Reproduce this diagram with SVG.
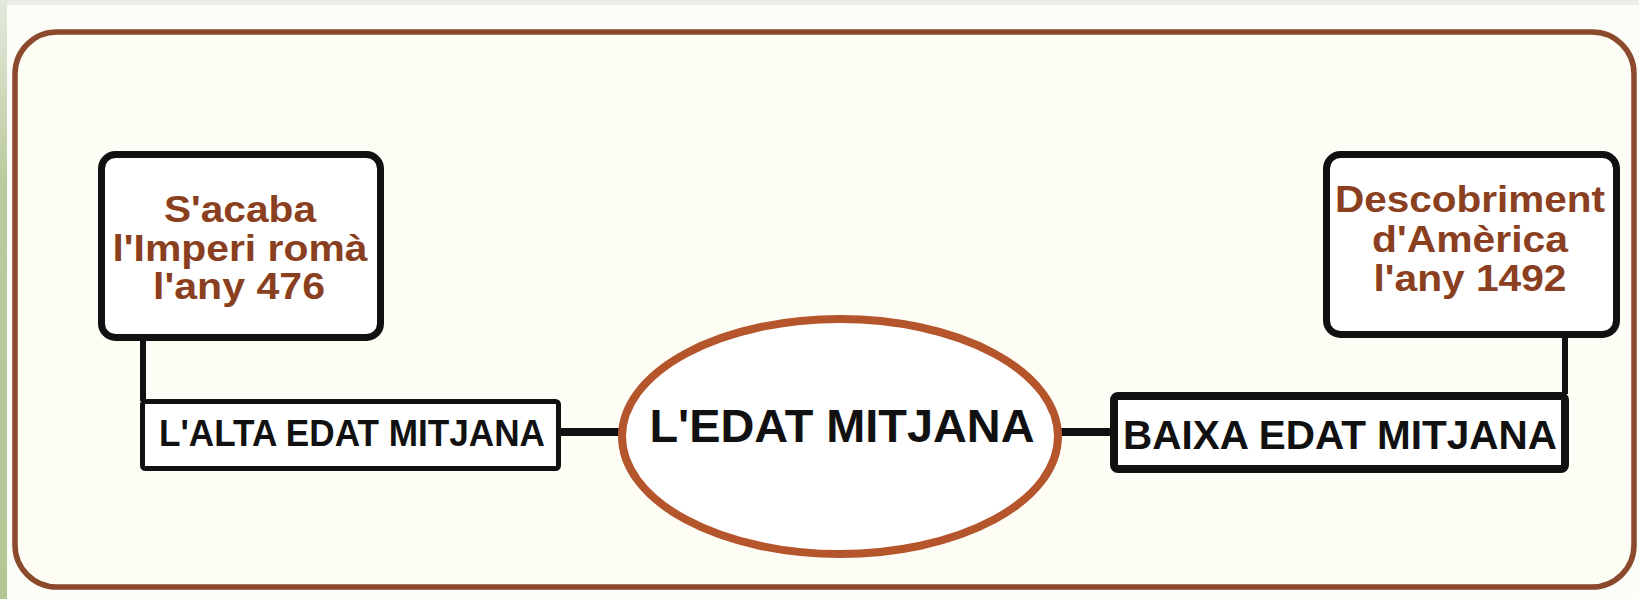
<svg xmlns="http://www.w3.org/2000/svg" width="1639" height="599" viewBox="0 0 1639 599">
<defs>
<linearGradient id="strip" x1="0" y1="0" x2="0" y2="1">
<stop offset="0" stop-color="#e4e9dc"/>
<stop offset="0.3" stop-color="#b9cb9e"/>
<stop offset="1" stop-color="#b3c795"/>
</linearGradient>
<style>
.box{fill:#ffffff;stroke:#111111;stroke-width:7}
.lbl{fill:#ffffff;stroke:#111111}
.wire{stroke:#111111;fill:none}
.brown{font-family:"Liberation Sans",Arial,sans-serif;font-weight:bold;font-size:37px;fill:#8a3f20;text-anchor:middle}
.black{font-family:"Liberation Sans",Arial,sans-serif;font-weight:bold;fill:#111111;text-anchor:middle}
</style>
</defs>
<rect x="0" y="0" width="1639" height="599" fill="#fcfcf8"/>
<rect x="0" y="0" width="1639" height="5" fill="#eceee8"/>
<rect x="0" y="0" width="7" height="599" fill="url(#strip)"/>
<rect id="frame" x="15" y="32" width="1619" height="555" rx="42" ry="42" fill="#fdfdf6" stroke="#8b4a2b" stroke-width="5.5"/>

<g id="connectors">
<line class="wire" x1="143" y1="338" x2="143" y2="401" stroke-width="6"/>
<line class="wire" x1="1565" y1="336" x2="1565" y2="394" stroke-width="6"/>
<line class="wire" x1="559" y1="432" x2="620" y2="432" stroke-width="8"/>
<line class="wire" x1="1060" y1="432" x2="1112" y2="432" stroke-width="8"/>
</g>

<g id="node-imperi">
<rect class="box" x="101.5" y="154.5" width="279" height="183" rx="14"/>
<text class="brown" x="240" y="222" textLength="152" lengthAdjust="spacingAndGlyphs">S'acaba</text>
<text class="brown" x="240" y="261" textLength="255" lengthAdjust="spacingAndGlyphs">l'Imperi romà</text>
<text class="brown" x="239" y="299" textLength="172" lengthAdjust="spacingAndGlyphs">l'any 476</text>
</g>

<g id="node-america">
<rect class="box" x="1326.5" y="154.5" width="290" height="180" rx="14"/>
<text class="brown" x="1470" y="212" textLength="270" lengthAdjust="spacingAndGlyphs">Descobriment</text>
<text class="brown" x="1470" y="252" textLength="196" lengthAdjust="spacingAndGlyphs">d'Amèrica</text>
<text class="brown" x="1470" y="291" textLength="193" lengthAdjust="spacingAndGlyphs">l'any 1492</text>
</g>

<g id="node-alta">
<rect class="lbl" x="142.5" y="401.5" width="416" height="67" rx="3" stroke-width="5"/>
<text class="black" x="352" y="446" font-size="36" textLength="386" lengthAdjust="spacingAndGlyphs">L'ALTA EDAT MITJANA</text>
</g>

<g id="node-edat">
<ellipse cx="840" cy="436.5" rx="218" ry="117.5" fill="#ffffff" stroke="#b5552b" stroke-width="8"/>
<text class="black" x="842" y="442" font-size="47" textLength="385" lengthAdjust="spacingAndGlyphs">L'EDAT MITJANA</text>
</g>

<g id="node-baixa">
<rect class="lbl" x="1114" y="396" width="451" height="73" rx="4" stroke-width="8"/>
<text class="black" x="1340" y="449" font-size="41" textLength="434" lengthAdjust="spacingAndGlyphs">BAIXA EDAT MITJANA</text>
</g>
</svg>
